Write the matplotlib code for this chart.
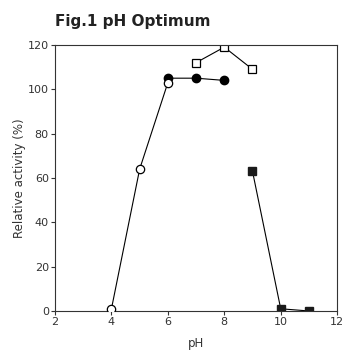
import matplotlib
matplotlib.use("Agg")
import matplotlib.pyplot as plt

# Data
ph_open_circle = [4, 5, 6]
act_open_circle = [1, 64, 103]
ph_filled_circle = [6, 7, 8]
act_filled_circle = [105, 105, 104]
ph_open_square = [7, 8, 9]
act_open_square = [112, 119, 109]
ph_filled_square = [9, 10, 11]
act_filled_square = [63, 1, 0]

xticks = [2, 4, 6, 8, 10, 12]
yticks = [0, 20, 40, 60, 80, 100, 120]

fig = plt.figure(figsize=(3.44, 3.51), dpi=100)
ax = fig.add_axes([0.16, 0.114, 0.82, 0.758])

lw = 0.8
ms = 6
ax.plot(ph_open_circle, act_open_circle, "-o", color="black", lw=lw,
        ms=ms, mfc="white", mec="black", mew=0.9, zorder=3)
ax.plot(ph_filled_circle, act_filled_circle, "-o", color="black", lw=lw,
        ms=ms, mfc="black", mec="black", zorder=2)
ax.plot(ph_open_square, act_open_square, "-s", color="black", lw=lw,
        ms=ms - 0.5, mfc="white", mec="black", mew=0.9)
ax.plot(ph_filled_square, act_filled_square, "-s", color="black", lw=lw,
        ms=ms - 0.5, mfc="#1a1a1a", mec="#1a1a1a")

ax.set_xlim(2, 12)
ax.set_ylim(0, 120)
ax.set_xticks(xticks)
ax.set_yticks(yticks)
ax.tick_params(direction="out", length=3, width=0.8, labelsize=8,
               labelcolor="#333333", color="#333333", pad=1.5)
for s in ax.spines.values():
    s.set_linewidth(0.8)
    s.set_color("#333333")

ax.set_xlabel("pH", fontsize=8.5, color="#333333", labelpad=7)
ax.set_ylabel("Relative activity (%)", fontsize=8.5, color="#333333", labelpad=1)
fig.text(0.16, 0.94, "Fig.1 pH Optimum", fontsize=11, fontweight="bold",
         color="#222222", ha="left", va="center")

fig.savefig("out.png", dpi=100)
